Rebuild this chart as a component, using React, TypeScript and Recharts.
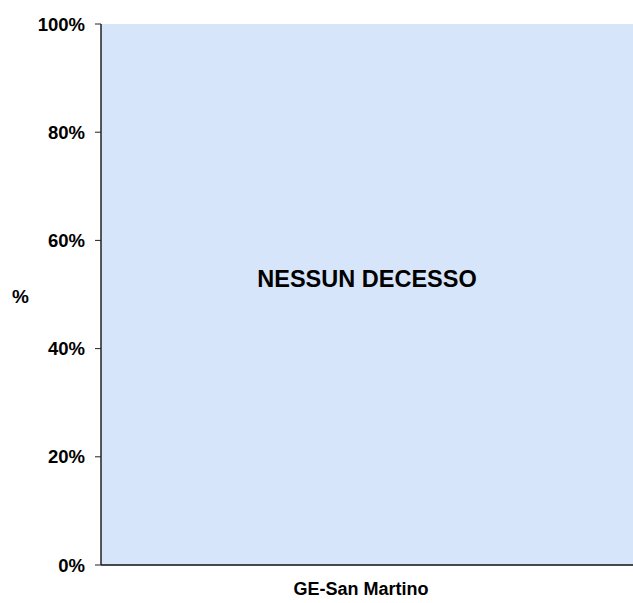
import { BarChart, Bar, XAxis, YAxis, CartesianGrid, ReferenceLine } from "recharts";

const categories = ["GE-San Martino"];
const decessi = [0];
const yTicks = [0, 20, 40, 60, 80, 100];
const note = "NESSUN DECESSO";

const data = categories.map((c, i) => ({ name: c, value: decessi[i] }));

const FONT = "'Liberation Sans', Arial, sans-serif";

export default function App() {
  return (
    <div style={{ position: "absolute", left: 0, top: 0, width: 633, height: 603, background: "#fff" }}>
      <BarChart
        width={633}
        height={603}
        data={data}
        margin={{ top: 24, right: 0, bottom: 0, left: 0 }}
        style={{ fontFamily: FONT }}
      >
        <CartesianGrid horizontal={false} vertical={false} fill="#d6e5f9" />
        <XAxis
          dataKey="name"
          height={38}
          tickLine={false}
          tickSize={0}
          tickMargin={17}
          axisLine={{ stroke: "#111", strokeWidth: 1.5 }}
          tick={{ fill: "#000", fontSize: 18, fontWeight: 700, dx: -6 }}
        />
        <YAxis
          width={101}
          domain={[0, 100]}
          ticks={yTicks}
          interval={0}
          tickFormatter={(v) => `${v}%`}
          tickSize={6}
          tickMargin={10}
          axisLine={{ stroke: "#222", strokeWidth: 1.5 }}
          tickLine={{ stroke: "#222" }}
          tick={{ fill: "#000", fontSize: 18.5, fontWeight: 700 }}
          label={{ value: "%", position: "insideLeft", offset: 12, dy: 2, fill: "#000", fontSize: 19, fontWeight: 700 }}
        />
        <ReferenceLine
          y={53}
          stroke="none"
          label={{ value: note, position: "center", fill: "#000", fontSize: 23.5, fontWeight: 700 }}
        />
        <Bar dataKey="value" fill="#6f8fcf" isAnimationActive={false} />
      </BarChart>
    </div>
  );
}
